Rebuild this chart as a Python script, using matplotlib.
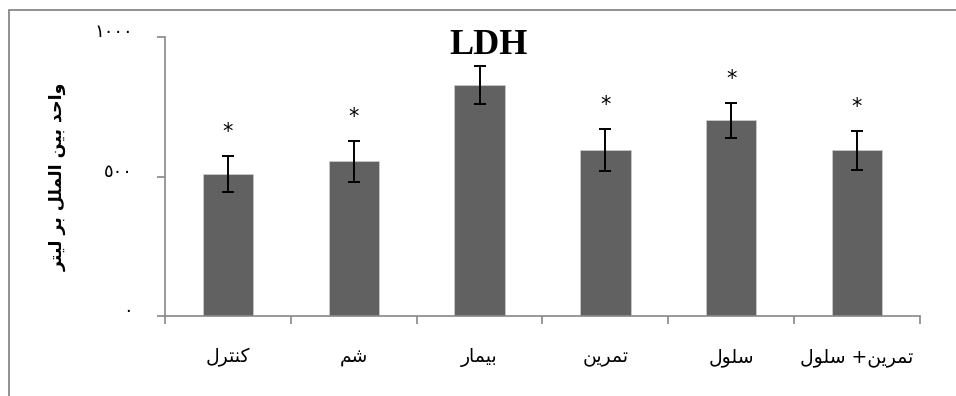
import numpy as np
import matplotlib
matplotlib.use("Agg")
import matplotlib.pyplot as plt
import matplotlib.transforms as mtransforms
from matplotlib.patches import Rectangle

# data
categories = ["کنترل", "شم", "بیمار", "تمرین", "سلول", "تمرین+ سلول"]
means = [508, 554, 828, 596, 701, 594]
errors = [65, 72, 67, 75, 64, 70]
stars = [True, True, False, True, True, True]
yticks = [0, 500, 1000]
ytick_labels = ["٠", "٥٠٠", "١٠٠٠"]
ylabel = "واحد بین الملل بر لیتر"
title = "LDH"

# matplotlib has no arabic shaping, so pick presentation forms by hand
# (isolated, final, initial, medial)
forms = {
    "ا": ("\uFE8D", "\uFE8E", None, None),
    "ب": ("\uFE8F", "\uFE90", "\uFE91", "\uFE92"),
    "ت": ("\uFE95", "\uFE96", "\uFE97", "\uFE98"),
    "ح": ("\uFEA1", "\uFEA2", "\uFEA3", "\uFEA4"),
    "د": ("\uFEA9", "\uFEAA", None, None),
    "ر": ("\uFEAD", "\uFEAE", None, None),
    "س": ("\uFEB1", "\uFEB2", "\uFEB3", "\uFEB4"),
    "ش": ("\uFEB5", "\uFEB6", "\uFEB7", "\uFEB8"),
    "ل": ("\uFEDD", "\uFEDE", "\uFEDF", "\uFEE0"),
    "م": ("\uFEE1", "\uFEE2", "\uFEE3", "\uFEE4"),
    "ن": ("\uFEE5", "\uFEE6", "\uFEE7", "\uFEE8"),
    "و": ("\uFEED", "\uFEEE", None, None),
    "ی": ("\uFBFC", "\uFBFD", "\uFBFE", "\uFBFF"),
    "ک": ("\uFB8E", "\uFB8F", "\uFB90", "\uFB91"),
}


def shape(s):
    out = []
    for i, ch in enumerate(s):
        if ch not in forms:
            out.append(ch)
            continue
        prev = s[i - 1] if i > 0 else ""
        nxt = s[i + 1] if i + 1 < len(s) else ""
        join_prev = prev in forms and forms[prev][2] is not None
        join_next = forms[ch][2] is not None and nxt in forms
        f = forms[ch]
        if join_prev and join_next:
            out.append(f[3])
        elif join_prev:
            out.append(f[1])
        elif join_next:
            out.append(f[2])
        else:
            out.append(f[0])
    return "".join(out)[::-1]


fig = plt.figure(figsize=(9.56, 3.96), dpi=100)
ax = fig.add_axes([0.1726, 0.2020, 0.7897, 0.7045])

gray = "#888888"
x = np.arange(len(categories))
ax.bar(x, means, width=0.4, color="#616161", edgecolor="#d0d0d0", linewidth=0.5, zorder=2)
ax.errorbar(x, means, yerr=errors, fmt="none", ecolor="black", elinewidth=1.4,
            capsize=4.5, capthick=1.4, zorder=3)

for i in range(len(categories)):
    if stars[i]:
        ax.annotate("*", (x[i], means[i] + errors[i]), xytext=(0, 10),
                    textcoords="offset points", ha="center", va="bottom",
                    fontsize=15, family="DejaVu Sans", color="black")

ax.set_xlim(-0.5, len(categories) - 0.5)
ax.set_ylim(0, 1000)

ax.set_yticks(yticks)
ax.set_yticklabels(ytick_labels, family="DejaVu Sans", fontsize=13)
ax.set_xticks(x)
ax.set_xticklabels([shape(c) for c in categories], family="DejaVu Sans", fontsize=13.5)
ax.set_xticks(np.arange(len(categories) + 1) - 0.5, minor=True)
ax.tick_params(axis="x", which="major", length=0, pad=23)
ax.tick_params(axis="x", which="minor", length=6, width=1.2, color=gray, direction="out")
ax.tick_params(axis="y", length=6, width=1.2, color=gray, direction="out", pad=17)
shift = mtransforms.ScaledTranslation(0, 5 / 100, fig.dpi_scale_trans)
for lab in ax.get_yticklabels():
    lab.set_verticalalignment("center")
    lab.set_transform(lab.get_transform() + shift)

for sp in ["top", "right"]:
    ax.spines[sp].set_visible(False)
for sp in ["left", "bottom"]:
    ax.spines[sp].set_color(gray)
    ax.spines[sp].set_linewidth(1.2)

ax.set_ylabel(shape(ylabel), family="DejaVu Sans", fontweight="bold", fontsize=12.5)
ax.yaxis.set_label_coords(-0.13, 0.5)

fig.text(489 / 956, 1 - 54 / 396, title, ha="center", va="baseline",
         family="Liberation Serif", fontweight="bold", fontsize=26)

# outer frame of the chart area, cut off at the right and bottom
fig.patches.append(Rectangle((9 / 956, -0.1), 1.2, 1.1 - 10 / 396,
                             transform=fig.transFigure, fill=False,
                             edgecolor=gray, linewidth=1.3))

fig.savefig("out.png", dpi=100)
